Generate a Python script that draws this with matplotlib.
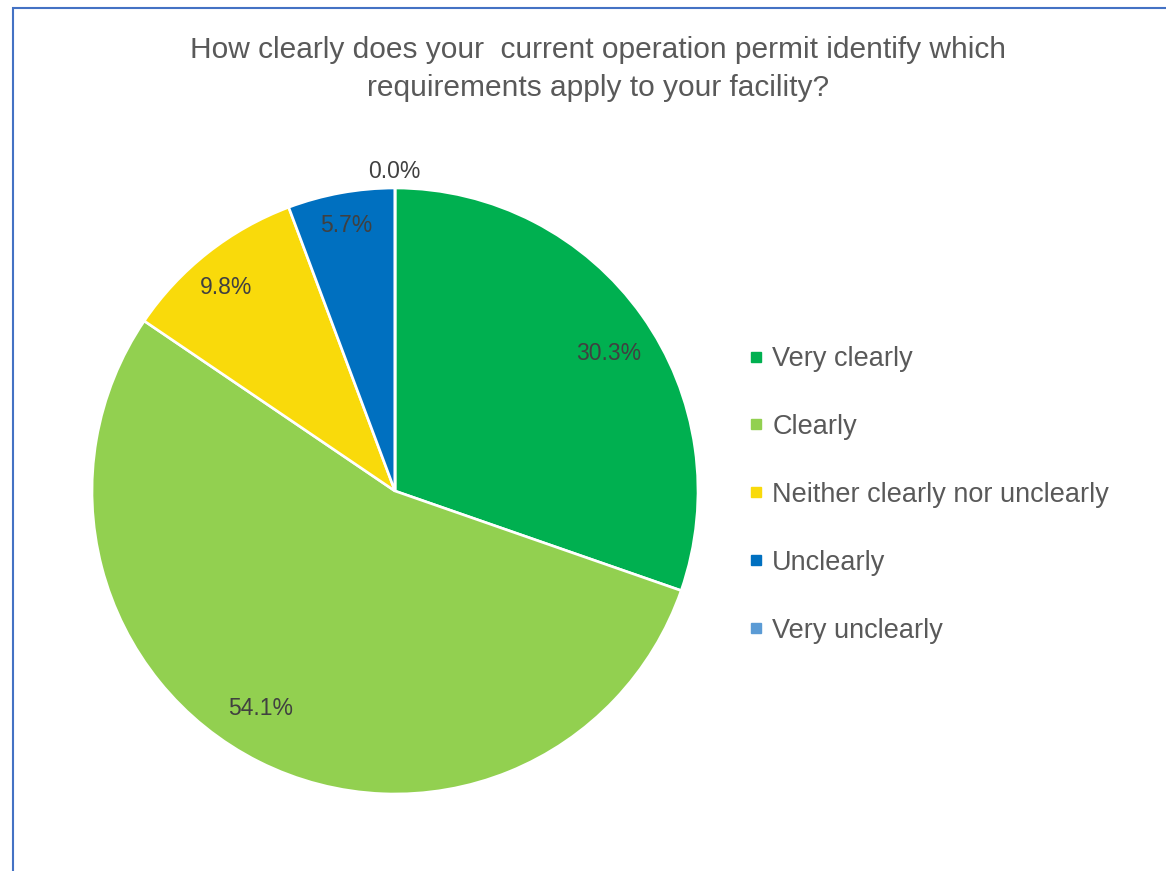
import numpy as np
import matplotlib
matplotlib.use("Agg")
import matplotlib.pyplot as plt
from matplotlib.patches import Rectangle
from matplotlib.lines import Line2D

title = "How clearly does your  current operation permit identify which\nrequirements apply to your facility?"
categories = ["Very clearly", "Clearly", "Neither clearly nor unclearly", "Unclearly", "Very unclearly"]
values = [30.3, 54.1, 9.8, 5.7, 0.0]
colors = ["#00B050", "#92D050", "#F9DA0B", "#0070C0", "#5B9BD5"]

# layout: data-label positions in pie units (radius = 1)
label_xy = [(0.706, 0.455), (-0.442, -0.719), (-0.556, 0.673), (-0.160, 0.876), (-0.003, 1.054)]

plt.rcParams['font.family'] = ['Liberation Sans', 'DejaVu Sans']

W, H = 1166, 871
fig = plt.figure(figsize=(W / 100, H / 100), dpi=100)
fig.patch.set_facecolor("white")

cx, cy, R = 395, 491, 303
ax = fig.add_axes([(cx - R) / W, (H - cy - R) / H, 2 * R / W, 2 * R / H])
wedges, _ = ax.pie(values, colors=colors, startangle=90, counterclock=False,
                   radius=1, wedgeprops=dict(edgecolor="white", linewidth=1.9))
ax.set_xlim(-1, 1)
ax.set_ylim(-1, 1)
ax.set_aspect("equal")
ax.axis("off")

for v, (x, y) in zip(values, label_xy):
    ax.text(x, y, f"{v:.1f}%", ha="center", va="center",
            fontsize=16.5, color="#404040")

fig.text(598 / W, 1 - 69 / H, title, ha="center", va="center", fontsize=21.5,
         color="#595959", linespacing=1.42)

handles = [Line2D([], [], marker="s", linestyle="none", markersize=7.5,
                  markerfacecolor=c, markeredgecolor=c) for c in colors]
leg = fig.legend(handles, categories, loc="upper left",
                 bbox_to_anchor=(748 / W, 1 - 346 / H), frameon=False,
                 fontsize=19.5, labelspacing=1.55, handlelength=0.6, handletextpad=0.3,
                 borderaxespad=0, borderpad=0)
for t in leg.get_texts():
    t.set_color("#595959")

fig.add_artist(Rectangle((12.5 / W, -0.05), 1.2, 1 - 8.5 / H + 0.05,
                         transform=fig.transFigure, fill=False,
                         edgecolor="#4472C4", linewidth=1.5, clip_on=False))

fig.savefig("out.png", dpi=100)
